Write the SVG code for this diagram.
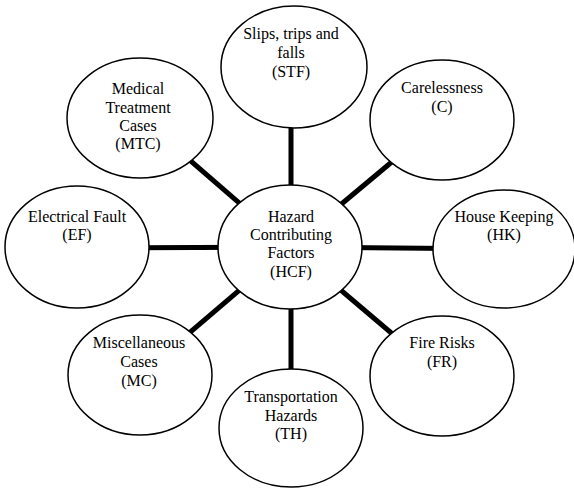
<svg xmlns="http://www.w3.org/2000/svg" width="574" height="488" viewBox="0 0 574 488">
<style>
.n ellipse{fill:#fff;stroke:#000;stroke-width:1.5}
.n text{font-size:16px;fill:#000;text-anchor:middle}
#edges line{stroke:#000;stroke-width:5}
</style>
<rect width="574" height="488" fill="#fff"/>
<g id="edges">
<line x1="291" y1="247" x2="291" y2="67"/>
<line x1="290" y1="247" x2="442" y2="120"/>
<line x1="290" y1="247" x2="504" y2="249"/>
<line x1="290" y1="247" x2="442" y2="376"/>
<line x1="291" y1="247" x2="291" y2="428"/>
<line x1="290" y1="247" x2="140" y2="375"/>
<line x1="290" y1="247" x2="77" y2="248"/>
<line x1="290" y1="247" x2="140" y2="117"/>
</g>
<g font-family="Liberation Serif, Times New Roman, serif">
<g id="STF" class="n"><ellipse cx="294" cy="67" rx="73" ry="61"/><text x="291" y="39">Slips, trips and</text><text x="291" y="58">falls</text><text x="291" y="77">(STF)</text></g>
<g id="C" class="n"><ellipse cx="442" cy="120" rx="72" ry="60"/><text x="442" y="93">Carelessness</text><text x="442" y="112">(C)</text></g>
<g id="MTC" class="n"><ellipse cx="140" cy="118" rx="73" ry="60"/><text x="138" y="94">Medical</text><text x="138" y="113">Treatment</text><text x="138" y="131">Cases</text><text x="138" y="149">(MTC)</text></g>
<g id="EF" class="n"><ellipse cx="77" cy="247" rx="72" ry="61"/><text x="77" y="222">Electrical Fault</text><text x="77" y="240">(EF)</text></g>
<g id="HCF" class="n"><ellipse cx="290" cy="247" rx="72" ry="62"/><text x="291" y="222">Hazard</text><text x="291" y="240">Contributing</text><text x="291" y="258">Factors</text><text x="291" y="277">(HCF)</text></g>
<g id="HK" class="n"><ellipse cx="504" cy="249" rx="71" ry="59"/><text x="504" y="222">House Keeping</text><text x="504" y="240">(HK)</text></g>
<g id="MC" class="n"><ellipse cx="140" cy="375" rx="72" ry="60"/><text x="139" y="348">Miscellaneous</text><text x="139" y="367">Cases</text><text x="139" y="386">(MC)</text></g>
<g id="FR" class="n"><ellipse cx="442" cy="376" rx="72" ry="60"/><text x="442" y="348">Fire Risks</text><text x="442" y="367">(FR)</text></g>
<g id="TH" class="n"><ellipse cx="291" cy="428" rx="72" ry="59"/><text x="291" y="402">Transportation</text><text x="291" y="421">Hazards</text><text x="291" y="439">(TH)</text></g>
</g>
</svg>
